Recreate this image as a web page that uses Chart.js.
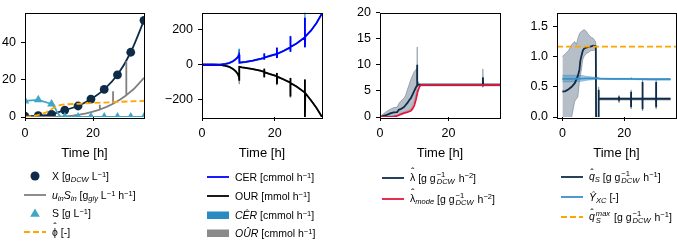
<!DOCTYPE html>
<html><head><meta charset="utf-8">
<script src="https://cdn.jsdelivr.net/npm/chart.js@4.4.0/dist/chart.umd.min.js"></script>
<style>
html,body{margin:0;padding:0;background:#fff;overflow:hidden;width:677px;height:241px;position:relative;}
canvas{position:absolute;top:0;}
.lg{position:absolute;top:0;font-family:'Liberation Sans',Arial,sans-serif;font-size:10.5px;color:#000;}
.row{position:absolute;left:0;height:16px;display:flex;align-items:center;white-space:nowrap;}
.row svg{flex:none;margin-right:6px;}
sub,sup{font-size:0.72em;line-height:0;}
sup{vertical-align:0.45em;} sub{vertical-align:-0.25em;}
.ss{display:inline-flex;flex-direction:column;font-size:0.72em;line-height:1;vertical-align:0.6em;margin:0 1px;}
.ss span{height:0.95em;}
.hat,.hatx{position:relative;display:inline-block;}
.hat::after,.hatx::after{content:"\02C6";position:absolute;left:0;right:0;text-align:center;font-style:normal;}
.hat::after{top:-0.5em;}
.hatx::after{top:-0.32em;}
</style></head>
<body>
<script>
// ===== Shared tick labels =====
const xTicks = [0, 20];
const yTicks1 = [0, 20, 40];
const yTicks2 = [-200, 0, 200];
const yTicks3 = [0, 5, 10, 15, 20];
const yTicks4 = [0, 0.5, 1.0, 1.5];

// ===== Panel 1: biomass, feed, substrate, phi =====
const markerTime = [0, 3.9, 7.8, 11.7, 15.6, 19.4, 23.3, 27.2, 31.1, 35];
const biomassX = [0.4, 0.7, 1.4, 3.7, 5.9, 9.6, 14.8, 22.6, 34.7, 51.8];
const substrateS = [8.6, 9.2, 7.0, 0, 0, 0, 0, 0, 0, 0];
const sLineTime = [0, 3.9, 7.8, 8.8, 9.5, 10.2, 11, 35];
const sLineValue = [8.6, 9.2, 7.0, 5.0, 2.5, 0.5, 0, 0];
const feedTime = [0, 10, 12, 14, 16, 18, 20, 22, 22, 22, 24, 25.9, 25.9, 25.9, 28, 29.8, 29.8, 29.8, 32, 34, 35];
const feedValue = [0, 0, 0.3, 0.7, 1.3, 2.0, 2.9, 4.0, 6.5, 4.0, 5.4, 7.1, 13.8, 7.1, 9.4, 11.7, 30, 11.7, 15, 19, 21];
const phiTime = [0, 2, 4, 6, 7, 8, 9, 10, 11, 12, 16, 20, 25, 30, 35];
const phiValue = [0.1, 0.4, 1.2, 2.3, 3.2, 4.4, 5.5, 6.2, 6.6, 6.8, 7.1, 7.5, 7.9, 8.3, 8.6];

// ===== Panel 2: CER / OUR =====
const cerTime = [0, 3, 5, 6.5, 7.5, 8.5, 9.3, 9.9, 10.2, 10.3, 11, 12, 14, 16, 17.1, 17.1, 17.1, 17.2, 18.5, 20.6, 20.6, 20.6, 20.7, 22.5, 24.3, 24.3, 24.3, 24.4, 26, 28.3, 28.3, 28.3, 28.4, 30, 31.5, 33];
const cerValue = [0, 0, 1, 5, 10, 20, 32, 45, 57, 12, 14, 16, 24, 33, 40, 64, 30, 41, 50, 62, 98, 39, 63, 80, 100, 164, 75, 102, 122, 158, 270, 101, 162, 197, 240, 295];
const cerHi = [2, 2, 3, 7, 12, 22, 34, 47, 92, 14, 16, 18, 26, 35, 42, 66, 32, 43, 52, 64, 100, 41, 65, 82, 102, 166, 77, 104, 124, 160, 300, 103, 164, 199, 242, 297];
const cerLo = [-2, -2, -1, 3, 8, 18, 30, 43, 55, 10, 12, 14, 22, 31, 38, 62, 28, 39, 48, 60, 96, 37, 61, 78, 98, 162, 73, 100, 120, 156, 268, 99, 160, 195, 238, 293];
const ourTime = [0, 3, 5, 6.5, 7.5, 8.5, 9.3, 9.9, 10.2, 10.2, 10.3, 11, 12, 14, 16, 17.1, 17.1, 17.1, 17.2, 18.5, 20.6, 20.6, 20.6, 20.7, 22.5, 24.3, 24.3, 24.3, 24.4, 26, 28.3, 28.3, 28.3, 28.4, 30, 31.5, 33];
const ourValue = [0, 0, -1, -6, -12, -24, -38, -55, -72, -92, -12, -15, -18, -25, -34, -41, -23, -71, -42, -52, -66, -48, -112, -68, -85, -103, -76, -183, -105, -125, -160, -85, -300, -162, -205, -248, -300];
const ourHi = [2, 2, 1, -4, -10, -22, -36, -53, -70, -90, -10, -13, -16, -23, -32, -39, -21, -69, -40, -50, -64, -46, -110, -66, -83, -101, -74, -181, -103, -123, -158, -83, -298, -160, -203, -246, -298];
const ourLo = [-2, -2, -3, -8, -14, -26, -40, -57, -74, -112, -14, -17, -20, -27, -36, -43, -25, -76, -44, -54, -68, -50, -118, -70, -87, -105, -78, -190, -107, -127, -162, -87, -310, -164, -207, -250, -302];

// ===== Panel 3: lambda =====
const lamTime = [0, 1, 2, 3, 4, 5, 5.5, 6, 7, 7.5, 8, 8.5, 9, 9.5, 10, 10.5, 10.8, 10.8, 10.9, 11.5, 30, 30, 30.1, 35];
const lamValue = [0, 0.2, 0.4, 0.7, 0.9, 0.95, 1.4, 1.5, 1.9, 2.3, 2.7, 3.2, 3.6, 4.3, 5.0, 5.7, 6.0, 10.0, 6.3, 6.15, 6.15, 7.6, 6.15, 6.15];
const lamHi = [0.1, 0.6, 1.1, 1.5, 1.8, 1.9, 2.6, 3.0, 3.6, 4.2, 5.3, 6.2, 7.2, 8.0, 8.7, 9.1, 9.3, 13.4, 7.0, 6.4, 6.4, 9.2, 6.4, 6.4];
const lamLo = [0, 0, 0.1, 0.2, 0.2, 0.3, 0.5, 0.6, 0.9, 1.0, 1.2, 1.3, 1.5, 2.2, 3.0, 4.3, 5.2, 5.8, 5.9, 5.95, 5.95, 5.7, 5.95, 5.95];
const lamModeTime = [0, 4, 5, 6, 7, 8, 9, 9.5, 10, 10.5, 11, 11.5, 12, 35];
const lamModeValue = [0, 0.05, 0.2, 0.5, 0.75, 0.95, 1.2, 1.6, 2.2, 3.4, 4.9, 5.8, 6.15, 6.15];

// ===== Panel 4: qS, Y_XC, qS max =====
const qsTime = [0, 1, 2, 3, 4, 4.5, 5, 5.5, 5.8, 6.2, 6.6, 7, 7.7, 8.5, 9.3, 10, 10.8, 10.9, 11.6, 11.7, 11.7, 11.8, 18.3, 18.3, 18.3, 18.4, 22.2, 22.2, 22.2, 22.3, 25.9, 25.9, 25.9, 26, 30.3, 30.3, 30.3, 30.4, 35];
const qsValue = [0.42, 0.43, 0.46, 0.5, 0.56, 0.62, 0.68, 0.78, 0.93, 1.02, 1.1, 1.13, 1.15, 1.16, 1.17, 1.18, 1.17, -0.05, -0.05, 0.2, 0.45, 0.3, 0.3, 0.34, 0.27, 0.3, 0.3, 0.42, 0.16, 0.3, 0.3, 0.58, 0.13, 0.3, 0.3, 0.58, 0.16, 0.3, 0.3];
const qsHi = [1.0, 1.05, 1.1, 1.2, 1.25, 1.2, 1.3, 1.38, 1.4, 1.42, 1.43, 1.45, 1.42, 1.36, 1.32, 1.3, 1.24, 0.0, 0.0, 0.25, 0.5, 0.32, 0.32, 0.36, 0.29, 0.32, 0.32, 0.45, 0.18, 0.32, 0.32, 0.61, 0.15, 0.32, 0.32, 0.61, 0.18, 0.32, 0.32];
const qsLo = [-0.1, -0.1, -0.1, 0.0, 0.26, 0.3, 0.33, 0.58, 0.68, 0.8, 0.95, 1.0, 1.05, 1.07, 1.1, 1.1, 1.12, -0.1, -0.1, 0.17, 0.42, 0.28, 0.28, 0.32, 0.24, 0.28, 0.28, 0.4, 0.13, 0.28, 0.28, 0.56, 0.1, 0.28, 0.28, 0.56, 0.13, 0.28, 0.28];
const yxcTime = [0, 3, 6, 8, 10, 11, 12, 16, 22.2, 22.3, 22.4, 28, 35];
const yxcValue = [0.63, 0.63, 0.635, 0.64, 0.64, 0.645, 0.635, 0.63, 0.63, 0.645, 0.63, 0.625, 0.625];
const yxcHi = [0.69, 0.69, 0.69, 0.67, 0.66, 0.66, 0.645, 0.64, 0.64, 0.655, 0.64, 0.635, 0.635];
const yxcLo = [0.58, 0.58, 0.59, 0.61, 0.62, 0.63, 0.625, 0.62, 0.62, 0.635, 0.62, 0.615, 0.615];
const qsMaxValue = 1.165;
const x4Range = [-1.75, 36.75];

// ===== Styling =====
const NAVY = '#0e2c48', CYAN = '#3fa7c6', GRAY = '#808080', ORANGE = '#ffa500';
const BLUE = '#0000ff', BLACK = '#000000', RED = '#e3173e', YXC = '#3a8fc6';
const CER_BAND = '#2b8ac0', OUR_BAND = '#8a8a8a';
const LAM_BAND = 'rgba(14,44,72,0.3)', YXC_BAND = 'rgba(58,143,198,0.45)';
const FONT = "'Liberation Sans', Arial, sans-serif";
const TOP = 5, BOTTOM = 117, CH = 170;

const pts = (xs, ys) => xs.map((x, i) => ({x, y: ys[i]}));
const line = (xs, ys, color, order, extra) => Object.assign({
  data: pts(xs, ys), borderColor: color, backgroundColor: color, borderWidth: 1.8,
  pointRadius: 0, order, clip: 0, fill: false
}, extra || {});

const framePlugin = {
  id: 'frame',
  afterDatasetsDraw(chart) {
    const {ctx, chartArea: a} = chart;
    ctx.save();
    ctx.strokeStyle = '#000'; ctx.lineWidth = 1;
    ctx.strokeRect(Math.round(a.left) + 0.5, Math.round(a.top) + 0.5,
      Math.round(a.right - a.left), Math.round(a.bottom - a.top));
    ctx.restore();
  }
};

function makeChart(spec) {
  const cv = document.createElement('canvas');
  const w = spec.R - spec.cl + 4;
  cv.width = w; cv.height = CH;
  cv.style.left = spec.cl + 'px'; cv.style.width = w + 'px'; cv.style.height = CH + 'px';
  document.body.appendChild(cv);
  const tickFont = {family: FONT, size: 12.5};
  new Chart(cv, {
    type: 'line',
    data: {datasets: spec.datasets},
    options: {
      responsive: false, animation: false, devicePixelRatio: 1, events: [],
      layout: {padding: {top: TOP, right: 4, bottom: 0, left: 0}},
      plugins: {legend: {display: false}, tooltip: {enabled: false}},
      scales: {
        x: {
          type: 'linear', min: spec.xMin, max: spec.xMax,
          afterBuildTicks: s => { s.ticks = xTicks.map(v => ({value: v})); },
          afterFit: s => { s.height = CH - BOTTOM; },
          ticks: {font: tickFont, color: '#000', padding: 5, maxRotation: 0, autoSkip: false},
          grid: {drawOnChartArea: false, tickLength: 4, color: '#000', lineWidth: 1},
          border: {display: false},
          title: {display: true, text: 'Time [h]', color: '#000', font: {family: FONT, size: 13}, padding: {top: 0, bottom: 9}}
        },
        y: {
          type: 'linear', min: spec.yMin, max: spec.yMax,
          afterBuildTicks: s => { s.ticks = spec.yTicks.map(v => ({value: v})); },
          afterFit: s => { s.width = spec.L - spec.cl; },
          ticks: {font: tickFont, color: '#000', padding: 5, autoSkip: false, callback: spec.fmt},
          grid: {drawOnChartArea: false, tickLength: 4, color: '#000', lineWidth: 1},
          border: {display: false}
        }
      }
    },
    plugins: [framePlugin]
  });
}

const fmtInt = v => (v < 0 ? '\u2212' + Math.abs(v) : String(v));
const fmt1 = v => v.toFixed(1);

// Panel 1
makeChart({L: 25, R: 145, cl: 0, xMin: 0, xMax: 35, yMin: 0, yMax: 56, yTicks: yTicks1, fmt: fmtInt,
  datasets: [
    line(phiTime, phiValue, ORANGE, 1, {borderDash: [6, 3]}),
    line(markerTime, substrateS, CYAN, 2, {showLine: false, pointRadius: 5, pointStyle: 'triangle', pointBackgroundColor: CYAN, pointBorderWidth: 0}),
    line(sLineTime, sLineValue, CYAN, 3),
    line(feedTime, feedValue, GRAY, 4),
    line(markerTime, biomassX, NAVY, 5, {cubicInterpolationMode: 'monotone', pointRadius: 4.4, pointBackgroundColor: NAVY, pointBorderColor: NAVY, pointBorderWidth: 0})
  ]});

// Panel 2
makeChart({L: 202, R: 322, cl: 150, xMin: 0, xMax: 33, yMin: -300, yMax: 300, yTicks: yTicks2, fmt: fmtInt,
  datasets: [
    line(cerTime, cerHi, CER_BAND, 6, {borderWidth: 1.2}),
    line(cerTime, cerLo, CER_BAND, 5, {borderWidth: 1.2, fill: 0}),
    line(ourTime, ourHi, OUR_BAND, 4, {borderWidth: 1.2}),
    line(ourTime, ourLo, OUR_BAND, 3, {borderWidth: 1.2, fill: 2}),
    line(ourTime, ourValue, BLACK, 2),
    line(cerTime, cerValue, BLUE, 1)
  ]});

// Panel 3
makeChart({L: 380, R: 500, cl: 327, xMin: 0, xMax: 35, yMin: 0, yMax: 20, yTicks: yTicks3, fmt: fmtInt,
  datasets: [
    line(lamTime, lamHi, LAM_BAND, 4, {borderWidth: 1}),
    line(lamTime, lamLo, LAM_BAND, 3, {borderWidth: 1, fill: 0}),
    line(lamTime, lamValue, NAVY, 2),
    line(lamModeTime, lamModeValue, RED, 1)
  ]});

// Panel 4
makeChart({L: 557, R: 676, cl: 505, xMin: x4Range[0], xMax: x4Range[1], yMin: 0, yMax: 1.73, yTicks: yTicks4, fmt: fmt1,
  datasets: [
    line(qsTime, qsHi, LAM_BAND, 7, {borderWidth: 1}),
    line(qsTime, qsLo, LAM_BAND, 6, {borderWidth: 1, fill: 0}),
    line(yxcTime, yxcHi, YXC_BAND, 5, {borderWidth: 1}),
    line(yxcTime, yxcLo, YXC_BAND, 4, {borderWidth: 1, fill: 2}),
    line(qsTime, qsValue, NAVY, 3),
    line(yxcTime, yxcValue, YXC, 2),
    line(x4Range, [qsMaxValue, qsMaxValue], ORANGE, 1, {borderDash: [6, 3]})
  ]});

// ===== Legends (HTML) =====
const ss = (a, b) => `<span class="ss"><span>${a}</span><span>${b}</span></span>`;
const gDCW = 'g' + ss('\u22121', '<i>DCW</i>');
function handle(kind, color) {
  const s = '<svg width="22" height="14" viewBox="0 0 22 14">';
  if (kind === 'line') return s + `<line x1="0" y1="7" x2="22" y2="7" stroke="${color}" stroke-width="1.8"/></svg>`;
  if (kind === 'dash') return s + `<line x1="0" y1="7" x2="22" y2="7" stroke="${color}" stroke-width="1.8" stroke-dasharray="6 3"/></svg>`;
  if (kind === 'circle') return s + `<circle cx="11" cy="7" r="4.5" fill="${color}"/></svg>`;
  if (kind === 'tri') return s + `<polygon points="11,2.5 15.8,10.8 6.2,10.8" fill="${color}"/></svg>`;
  return s + `<rect x="0" y="3.5" width="22" height="7.5" fill="${color}"/></svg>`;
}
const legends = [
  {x: 24, y: 176, dy: 18.7, items: [
    ['circle', NAVY, 'X [g<sub><i>DCW</i></sub> L<sup>\u22121</sup>]'],
    ['line', GRAY, '<i>u<sub>in</sub>S<sub>in</sub></i> [g<sub><i>gly</i></sub> L<sup>\u22121</sup> h<sup>\u22121</sup>]'],
    ['tri', CYAN, 'S [g L<sup>\u22121</sup>]'],
    ['dash', ORANGE, '<span class="hat">\u03d5</span> [-]']]},
  {x: 207, y: 177, dy: 18.8, items: [
    ['line', BLUE, 'CER [cmmol h<sup>\u22121</sup>]'],
    ['line', BLACK, 'OUR [mmol h<sup>\u22121</sup>]'],
    ['box', CER_BAND, '<i>C\u00caR</i> [cmmol h<sup>\u22121</sup>]'],
    ['box', OUR_BAND, '<i>O\u00dbR</i> [cmmol h<sup>\u22121</sup>]']]},
  {x: 382, y: 178, dy: 21, items: [
    ['line', NAVY, '<span class="hat">\u03bb</span> [g ' + gDCW + ' h<sup>\u22122</sup>]'],
    ['line', RED, '<span class="hat">\u03bb</span><sub><i>mode</i></sub> [g ' + gDCW + ' h<sup>\u22122</sup>]']]},
  {x: 561, y: 177, dy: 20, items: [
    ['line', NAVY, '<i class="hatx">q</i><sub><i>S</i></sub> [g ' + gDCW + ' h<sup>\u22121</sup>]'],
    ['line', YXC, '<i>\u0176</i><sub><i>XC</i></sub> [-]'],
    ['dash', ORANGE, '<i class="hatx">q</i>' + ss('<i>max</i>', '<i>S</i>') + ' [g ' + gDCW + ' h<sup>\u22121</sup>]']]}
];
legends.forEach(lg => {
  const d = document.createElement('div');
  d.className = 'lg'; d.style.left = lg.x + 'px';
  lg.items.forEach((it, i) => {
    const r = document.createElement('div');
    r.className = 'row';
    r.style.top = (lg.y + i * lg.dy - 8) + 'px';
    r.innerHTML = handle(it[0], it[1]) + '<span>' + it[2] + '</span>';
    d.appendChild(r);
  });
  document.body.appendChild(d);
});
</script>
</body></html>
